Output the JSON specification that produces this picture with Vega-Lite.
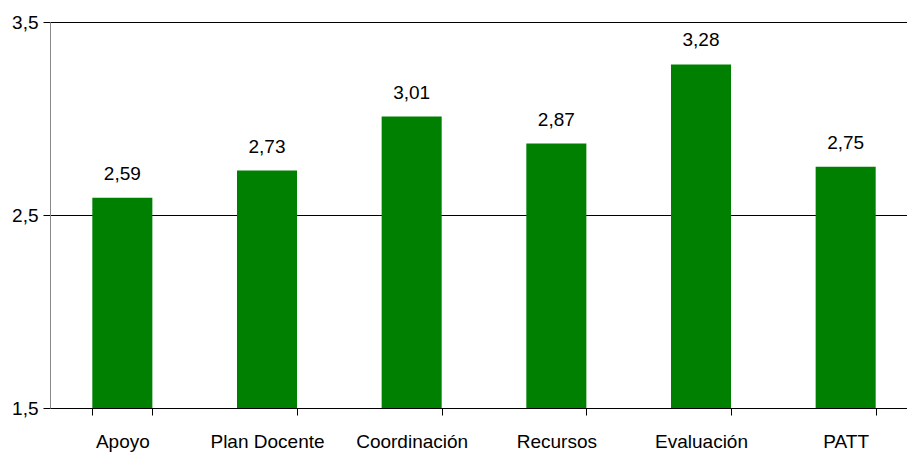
{
  "$schema": "https://vega.github.io/schema/vega-lite/v6.json",
  "width": 868,
  "height": 386,
  "autosize": "none",
  "padding": {"left": 50, "top": 22, "right": 0, "bottom": 44},
  "background": "white",
  "config": {
    "view": {"stroke": null},
    "font": "Liberation Sans",
    "locale": {"number": {"decimal": ",", "thousands": ".", "grouping": [3], "currency": ["", " €"]}}
  },
  "data": {"values": [
    {"cat": "Apoyo", "v": 2.59},
    {"cat": "Plan Docente", "v": 2.73},
    {"cat": "Coordinación", "v": 3.01},
    {"cat": "Recursos", "v": 2.87},
    {"cat": "Evaluación", "v": 3.28},
    {"cat": "PATT", "v": 2.75}
  ]},
  "encoding": {
    "x": {"field": "cat", "type": "nominal", "sort": null,
      "scale": {"paddingInner": 0.585, "paddingOuter": 0.2925},
      "axis": {"title": null, "labelAngle": 0, "labelFontSize": 19, "labelColor": "#000", "labelFont": "Liberation Sans",
        "tickBand": "extent", "tickSize": 7, "tickColor": "#000", "domainColor": "#000", "labelPadding": 17, "labelOverlap": false}},
    "y": {"field": "v", "type": "quantitative",
      "scale": {"domain": [1.5, 3.5], "nice": false, "zero": false},
      "axis": {"title": null, "values": [1.5, 2.5, 3.5], "format": ".1f",
        "labelFontSize": 19, "labelColor": "#000", "labelFont": "Liberation Sans", "labelPadding": 5,
        "grid": true, "gridColor": "#000", "gridOpacity": 1, "gridWidth": 1,
        "tickSize": 7, "tickColor": "#000", "domainColor": "#888"}}
  },
  "layer": [
    {"mark": {"type": "bar", "color": "#008000"}, "encoding": {"y2": {"datum": 1.5}}},
    {"mark": {"type": "text", "dy": -24, "fontSize": 19, "font": "Liberation Sans", "color": "#000"},
     "encoding": {"text": {"field": "v", "type": "quantitative", "format": ".2f"}}}
  ]
}
